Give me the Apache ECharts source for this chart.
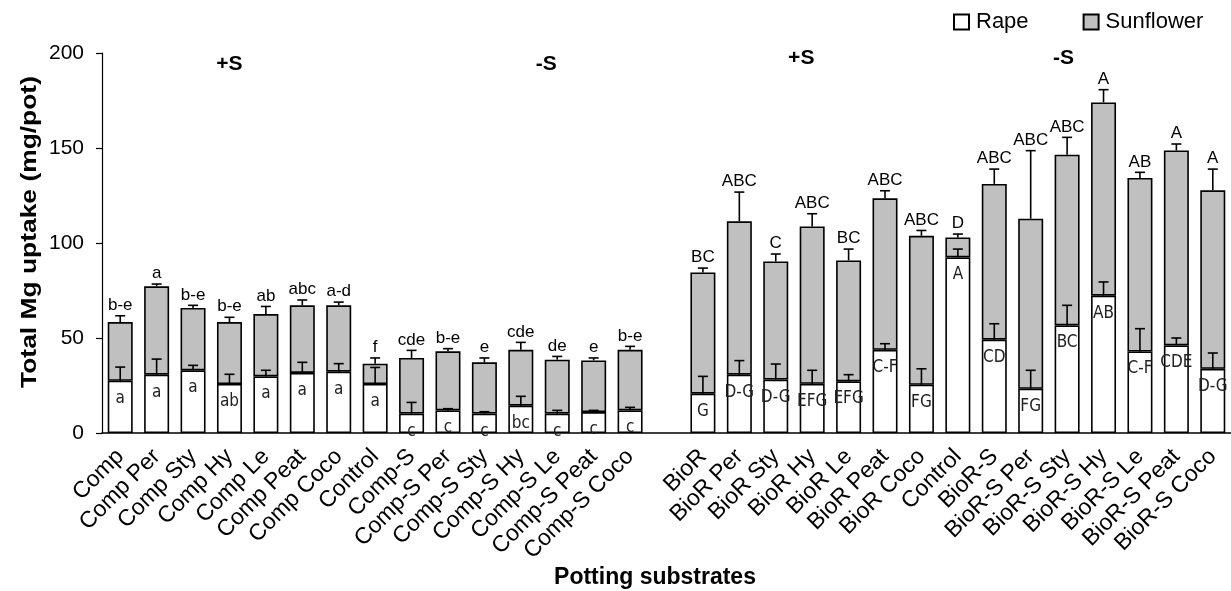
<!DOCTYPE html>
<html>
<head>
<meta charset="utf-8">
<script src="https://cdn.jsdelivr.net/npm/echarts@6/dist/echarts.min.js"></script>
<style>
  html, body { margin: 0; padding: 0; background: #ffffff; }
  #chart { width: 1231px; height: 591px; }
</style>
</head>
<body>
<div id="chart"></div>
<script>
// Potting substrates (an empty slot separates the compost and BioR blocks)
const categories = [
  'Comp', 'Comp Per', 'Comp Sty', 'Comp Hy', 'Comp Le', 'Comp Peat', 'Comp Coco', 'Control',
  'Comp-S', 'Comp-S Per', 'Comp-S Sty', 'Comp-S Hy', 'Comp-S Le', 'Comp-S Peat', 'Comp-S Coco',
  '',
  'BioR', 'BioR Per', 'BioR Sty', 'BioR Hy', 'BioR Le', 'BioR Peat', 'BioR Coco', 'Control',
  'BioR-S', 'BioR-S Per', 'BioR-S Sty', 'BioR-S Hy', 'BioR-S Le', 'BioR-S Peat', 'BioR-S Coco'
];

// Mg uptake of rape (mg/pot) and its standard error
const rape = [
  27.5, 30.7, 33.0, 25.8, 29.8, 31.6, 32.3, 25.8,
  10.2, 11.9, 10.2, 14.4, 10.2, 11.0, 11.9,
  null,
  20.7, 30.7, 28.1, 25.9, 27.2, 43.8, 25.4, 92.4,
  49.1, 23.3, 56.6, 72.3, 42.9, 46.1, 33.8
];
const rapeSE = [
  7.2, 8.2, 2.6, 5.1, 3.2, 5.6, 4.2, 8.7,
  5.9, 0.9, 1.0, 4.9, 1.7, 0.9, 1.6,
  null,
  9.1, 7.4, 8.2, 7.1, 3.5, 3.2, 8.4, 4.4,
  8.4, 9.7, 10.6, 7.2, 12.0, 3.9, 8.3
];

// Mg uptake of sunflower (mg/pot), stacked on rape, and its standard error
const sunflower = [
  30.9, 46.5, 32.8, 32.6, 32.8, 35.6, 34.9, 10.7,
  29.3, 31.1, 27.0, 29.4, 28.4, 27.2, 31.9,
  null,
  63.8, 80.7, 62.2, 82.8, 63.6, 79.7, 78.4, 10.5,
  82.0, 89.5, 89.9, 101.7, 91.3, 102.6, 93.9
];
const sunflowerSE = [
  3.3, 1.2, 1.4, 2.5, 4.0, 2.8, 1.7, 3.0,
  4.0, 1.4, 2.3, 3.9, 1.7, 1.3, 1.8,
  null,
  2.3, 15.4, 3.9, 6.7, 6.0, 4.0, 2.8, 1.8,
  7.8, 35.8, 9.1, 6.7, 3.0, 3.4, 11.2
];

// Significance letters for the total (above) and for rape (inside the white bar)
const totalLetters = [
  'b-e', 'a', 'b-e', 'b-e', 'ab', 'abc', 'a-d', 'f',
  'cde', 'b-e', 'e', 'cde', 'de', 'e', 'b-e',
  '',
  'BC', 'ABC', 'C', 'ABC', 'BC', 'ABC', 'ABC', 'D',
  'ABC', 'ABC', 'ABC', 'A', 'AB', 'A', 'A'
];
const rapeLetters = [
  'a', 'a', 'a', 'ab', 'a', 'a', 'a', 'a',
  'c', 'c', 'c', 'bc', 'c', 'c', 'c',
  '',
  'G', 'D-G', 'D-G', 'EFG', 'EFG', 'C-F', 'FG', 'A',
  'CD', 'FG', 'BC', 'AB', 'C-F', 'CDE', 'D-G'
];

// Sulphur treatment headings: text, category position, height (mg/pot)
const sectionText = ['+S', '-S', '+S', '-S'];
const sectionPos = [3.0, 11.7, 18.7, 25.9];
const sectionY = [194, 194, 197.5, 197.5];

const yTicks = { min: 0, max: 200, interval: 50 };

const errData = categories.map(function (c, i) {
  if (rape[i] == null) return [i, null, null, null, null];
  const total = rape[i] + sunflower[i];
  return [i, rape[i], rape[i] + rapeSE[i], total, total + sunflowerSE[i]];
});

const FONT = 'Liberation Sans, Arial, sans-serif';
const chart = echarts.init(document.getElementById('chart'), null, { renderer: 'canvas' });

function errorBar(api, x, from, to, capHalf) {
  const p0 = api.coord([x, from]);
  const p1 = api.coord([x, to]);
  const cx = p0[0];
  return [
    { type: 'line', shape: { x1: cx, y1: p0[1], x2: cx, y2: p1[1] },
      style: { stroke: '#000', lineWidth: 1.6 } },
    { type: 'line', shape: { x1: cx - capHalf, y1: p1[1], x2: cx + capHalf, y2: p1[1] },
      style: { stroke: '#000', lineWidth: 1.6 } }
  ];
}

const option = {
  animation: false,
  backgroundColor: '#ffffff',
  textStyle: { fontFamily: FONT, color: '#000' },
  grid: { left: 102, right: 0, top: 53, bottom: 158, containLabel: false },
  legend: {
    data: ['Rape', 'Sunflower'],
    left: 953, top: 11,
    padding: 0,
    itemWidth: 15, itemHeight: 15, itemGap: 54,
    icon: 'rect',
    textStyle: { fontSize: 22, color: '#000', fontFamily: FONT, padding: [0, 0, 0, 2] }
  },
  xAxis: {
    type: 'category',
    data: categories,
    axisLine: { lineStyle: { color: '#000', width: 1.5 } },
    axisTick: { show: false },
    axisLabel: {
      interval: 0, rotate: 45, fontSize: 23, color: '#000', margin: 20,
      fontFamily: FONT
    }
  },
  yAxis: {
    type: 'value',
    min: yTicks.min, max: yTicks.max, interval: yTicks.interval,
    splitLine: { show: false },
    axisLine: { show: true, lineStyle: { color: '#000', width: 1.2 } },
    axisTick: { show: true, length: 6, lineStyle: { color: '#000', width: 1.2 } },
    axisLabel: { fontSize: 21, color: '#000', margin: 18, fontFamily: FONT }
  },
  series: [
    {
      name: 'Rape', type: 'bar', stack: 'uptake', barWidth: 25,
      data: rape,
      itemStyle: { color: '#ffffff', borderColor: '#000', borderWidth: 1.6 },
      label: {
        show: true, position: 'insideTop', distance: 9,
        formatter: function (p) { return rapeLetters[p.dataIndex]; },
        fontSize: 17, color: '#222',
        fontFamily: 'Liberation Sans Narrow, DejaVu Sans Condensed, sans-serif'
      },
      z: 2
    },
    {
      name: 'Sunflower', type: 'bar', stack: 'uptake', barWidth: 25,
      data: sunflower,
      itemStyle: { color: '#c0c0c0', borderColor: '#000', borderWidth: 1.6 },
      z: 2
    },
    {
      name: 'SE', type: 'custom',
      data: errData,
      encode: { x: 0, y: [1, 2, 3, 4] },
      z: 5,
      renderItem: function (params, api) {
        const i = api.value(0);
        if (rape[i] == null) return null;
        const children = []
          .concat(errorBar(api, i, api.value(1), api.value(2), 5))
          .concat(errorBar(api, i, api.value(3), api.value(4), 5));
        const top = api.coord([i, api.value(4)]);
        children.push({
          type: 'text',
          style: {
            x: top[0], y: top[1] - 2, text: totalLetters[i],
            align: 'center', verticalAlign: 'bottom',
            fontSize: 17, fill: '#000', fontFamily: FONT
          }
        });
        return { type: 'group', children: children };
      }
    }
  ]
};

chart.setOption(option);

// Treatment headings placed between category centres
const headings = sectionText.map(function (t, k) {
  const base = Math.floor(sectionPos[k]);
  const frac = sectionPos[k] - base;
  const a = chart.convertToPixel({ gridIndex: 0 }, [base, sectionY[k]]);
  const b = chart.convertToPixel({ gridIndex: 0 }, [base + 1, sectionY[k]]);
  return {
    type: 'text',
    x: a[0] + frac * (b[0] - a[0]), y: a[1],
    style: {
      text: t, align: 'center', verticalAlign: 'middle',
      fontSize: 21, fontWeight: 'bold', fill: '#000', fontFamily: FONT
    }
  };
});

chart.setOption({
  graphic: headings.concat([
    {
      type: 'text', x: 30, y: 232, rotation: Math.PI / 2, scaleX: 1.2,
      style: {
        text: 'Total Mg uptake (mg/pot)', align: 'center', verticalAlign: 'middle',
        fontSize: 22, fontWeight: 'bold', fill: '#000', fontFamily: FONT
      }
    },
    {
      type: 'text', x: 655, y: 578,
      style: {
        text: 'Potting substrates', align: 'center', verticalAlign: 'middle',
        fontSize: 23, fontWeight: 'bold', fill: '#000', fontFamily: FONT
      }
    }
  ])
});
</script>
</body>
</html>
